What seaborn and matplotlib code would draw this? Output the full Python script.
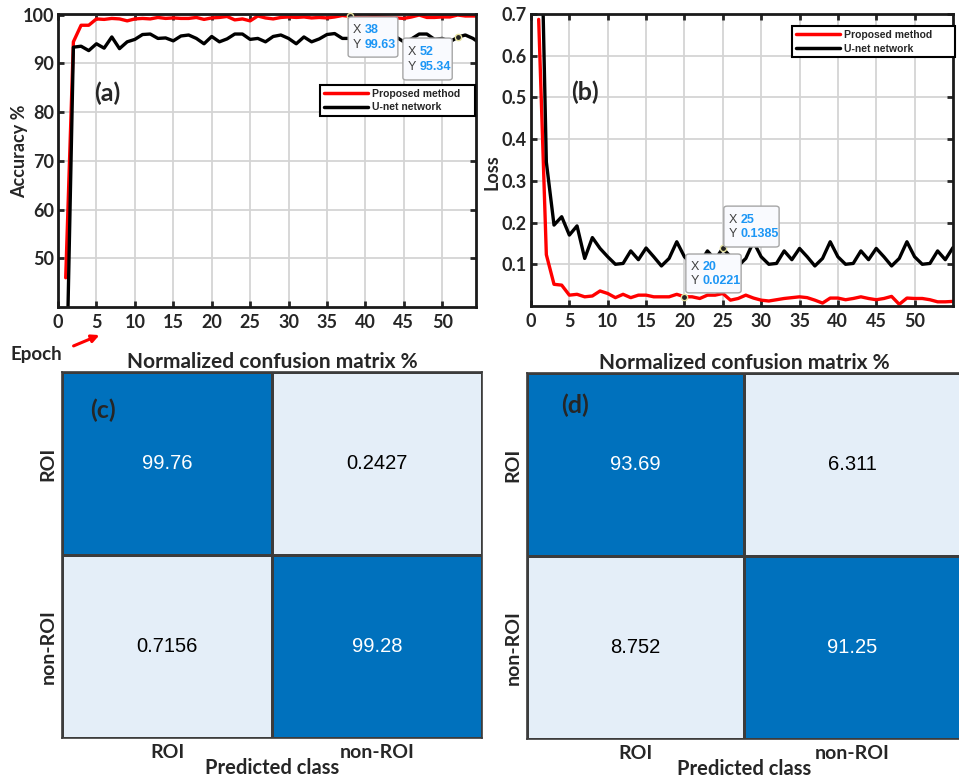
import numpy as np
import pandas as pd
import matplotlib.pyplot as plt
import seaborn as sns
from matplotlib.colors import ListedColormap
from matplotlib.patches import FancyBboxPatch, FancyArrowPatch

# ---- data ----
epochs = list(range(1, 56))

acc_proposed = [46.0, 94.4, 97.8, 97.8, 99.1, 99.0, 99.2, 99.1, 98.7, 99.1,
                99.2, 99.1, 99.4, 99.2, 99.3, 99.2, 99.2, 99.4, 99.0, 99.3,
                99.4, 99.6, 98.9, 99.1, 98.7, 99.7, 99.3, 99.1, 99.4, 99.5,
                99.4, 99.5, 99.3, 99.4, 99.3, 99.5, 99.8, 99.63, 99.5, 99.4,
                99.6, 99.5, 99.4, 99.3, 99.2, 99.5, 99.9, 99.4, 99.4, 99.5,
                99.5, 99.9, 99.7, 99.7, 99.7]
acc_unet = [17.0, 93.3, 93.5, 92.6, 94.0, 93.1, 95.4, 93.0, 94.4, 94.9,
            95.9, 96.0, 95.1, 95.2, 94.6, 95.6, 95.8, 95.1, 94.0, 95.5,
            94.4, 95.0, 96.0, 96.0, 94.9, 95.1, 94.4, 95.5, 95.8, 95.1,
            94.0, 95.4, 94.4, 95.0, 95.9, 96.1, 95.1, 95.1, 94.4, 95.5,
            95.8, 95.1, 94.0, 95.4, 94.4, 95.0, 96.0, 96.0, 94.9, 95.1,
            94.4, 95.34, 95.8, 95.1, 94.0]

loss_proposed = [0.687, 0.123, 0.052, 0.050, 0.026, 0.028, 0.022, 0.024, 0.036, 0.030,
                 0.020, 0.028, 0.020, 0.026, 0.026, 0.022, 0.022, 0.022, 0.028, 0.0221,
                 0.022, 0.018, 0.026, 0.026, 0.030, 0.014, 0.018, 0.026, 0.019, 0.014,
                 0.012, 0.015, 0.018, 0.020, 0.022, 0.020, 0.014, 0.007, 0.019, 0.019,
                 0.015, 0.018, 0.022, 0.018, 0.015, 0.018, 0.023, 0.004, 0.019, 0.018,
                 0.018, 0.015, 0.010, 0.010, 0.011]
loss_unet = [1.20, 0.345, 0.194, 0.214, 0.170, 0.192, 0.114, 0.164, 0.138, 0.118,
             0.100, 0.102, 0.132, 0.111, 0.139, 0.118, 0.096, 0.114, 0.154, 0.118,
             0.100, 0.102, 0.132, 0.111, 0.1385, 0.118, 0.096, 0.114, 0.154, 0.118,
             0.100, 0.102, 0.132, 0.111, 0.138, 0.118, 0.096, 0.114, 0.154, 0.118,
             0.100, 0.102, 0.132, 0.111, 0.138, 0.118, 0.096, 0.114, 0.154, 0.118,
             0.100, 0.102, 0.132, 0.111, 0.140]

methods = ["Proposed method", "U-net network"]
classes = ["ROI", "non-ROI"]
cm_proposed = [[99.76, 0.2427], [0.7156, 99.28]]
cm_unet = [[93.69, 6.311], [8.752, 91.25]]
cm_proposed_txt = [["99.76", "0.2427"], ["0.7156", "99.28"]]
cm_unet_txt = [["93.69", "6.311"], ["8.752", "91.25"]]

sns.set_style("ticks")
plt.rcParams['font.family'] = ['Lato', 'DejaVu Sans']

df_acc = pd.DataFrame({
    "epoch": epochs * 2,
    "value": acc_proposed + acc_unet,
    "method": [methods[0]] * len(epochs) + [methods[1]] * len(epochs),
})
df_loss = pd.DataFrame({
    "epoch": epochs * 2,
    "value": loss_proposed + loss_unet,
    "method": [methods[0]] * len(epochs) + [methods[1]] * len(epochs),
})

pal = {methods[0]: "#FF0000", methods[1]: "#000000"}
fig = plt.figure(figsize=(9.59, 7.80), dpi=100)

ax_a = fig.add_axes([0.0605, 0.6064, 0.4359, 0.3756])
ax_b = fig.add_axes([0.5537, 0.6077, 0.4400, 0.3744])


def style_line_axes(ax):
    ax.grid(True, color="#D4D4D4", linewidth=1.3)
    for s in ax.spines.values():
        s.set_linewidth(2.0)
        s.set_color("#1a1a1a")
    ax.tick_params(direction="in", length=4, width=2, top=True, right=True,
                   labelsize=13, pad=5)
    ax.tick_params(axis="y", pad=3)
    for lab in ax.get_xticklabels() + ax.get_yticklabels():
        lab.set_fontweight("bold")
    ax.set_xlabel("")


def datatip(ax, x, y, xv, yv, box):
    ax.plot([x], [y], "o", ms=4.5, mfc="#222222", mec="#E6E2A0", mew=1.0,
            zorder=6, clip_on=False)
    x0, y0, x1, y1 = box
    patch = FancyBboxPatch((x0, y0), x1 - x0, y1 - y0,
                           boxstyle="round,pad=0,rounding_size=0.008",
                           transform=ax.transAxes, fc="#F9FAFE", ec="#A6A6A6",
                           lw=1.0, zorder=7, clip_on=False)
    ax.add_patch(patch)
    h = y1 - y0
    for i, (k, v) in enumerate([("X", xv), ("Y", yv)]):
        yy = y1 - h * (0.33 + 0.36 * i)
        ax.text(x0 + 0.012, yy, k, transform=ax.transAxes, fontsize=9,
                family="Liberation Sans", color="#404040", va="center", zorder=8)
        ax.text(x0 + 0.040, yy, v, transform=ax.transAxes, fontsize=9,
                family="Liberation Sans", color="#1C96F5", fontweight="bold",
                va="center", zorder=8)


def add_legend(ax, anchor):
    h, l = ax.get_legend_handles_labels()
    leg = ax.legend(h, l, loc="upper left", bbox_to_anchor=anchor,
                    mode="expand", frameon=True, fancybox=False, edgecolor="black",
                    prop={"family": "Liberation Sans", "weight": "bold", "size": 7.5},
                    handlelength=4.2, borderpad=0.35, labelspacing=0.35,
                    handletextpad=0.4, framealpha=1)
    leg.get_frame().set_linewidth(1.5)
    leg.set_zorder(5)
    for ln in leg.get_lines():
        ln.set_linewidth(2.5)


# ---- (a) accuracy ----
sns.lineplot(data=df_acc, x="epoch", y="value", hue="method", hue_order=methods,
             palette=pal, linewidth=2.4, estimator=None, ax=ax_a)
ax_a.set_xlim(0, 54.4)
ax_a.set_ylim(40, 100.1)
ax_a.set_xticks(range(0, 55, 5))
ax_a.set_yticks(range(50, 101, 10))
style_line_axes(ax_a)
ax_a.set_ylabel("Accuracy %", fontsize=13, fontweight="bold")
ax_a.yaxis.set_label_coords(-0.072, 0.53)
add_legend(ax_a, (0.615, 0.655, 0.395, 0.12))
datatip(ax_a, epochs[37], acc_proposed[37], "38", "99.63", (0.694, 0.853, 0.813, 0.990))
datatip(ax_a, epochs[51], acc_unet[51], "52", "95.34", (0.825, 0.775, 0.943, 0.918))

# ---- (b) loss ----
sns.lineplot(data=df_loss, x="epoch", y="value", hue="method", hue_order=methods,
             palette=pal, linewidth=2.4, estimator=None, ax=ax_b)
ax_b.set_xlim(0, 55)
ax_b.set_ylim(0, 0.7)
ax_b.set_xticks(range(0, 55, 5))
ax_b.set_yticks([0.1, 0.2, 0.3, 0.4, 0.5, 0.6, 0.7])
style_line_axes(ax_b)
ax_b.set_ylabel("Loss", fontsize=13, fontweight="bold")
ax_b.yaxis.set_label_coords(-0.072, 0.46)
add_legend(ax_b, (0.607, 0.865, 0.41, 0.11))
datatip(ax_b, epochs[24], loss_unet[24], "25", "0.1385", (0.457, 0.202, 0.588, 0.342))
datatip(ax_b, epochs[19], loss_proposed[19], "20", "0.0221", (0.367, 0.045, 0.498, 0.178))

# ---- (c) / (d) confusion matrices ----
cmap = ListedColormap(["#E4EEF8", "#0071BD"])
ax_c = fig.add_axes([0.0647, 0.0538, 0.4380, 0.4692])
ax_d = fig.add_axes([0.5495, 0.0526, 0.4526, 0.4692])
for ax, mat, txt in [(ax_c, cm_proposed, cm_proposed_txt), (ax_d, cm_unet, cm_unet_txt)]:
    sns.heatmap(np.array(mat), annot=np.array(txt), fmt="", cmap=cmap, vmin=0, vmax=100,
                cbar=False, linewidths=1, linecolor="#3C3C3C",
                xticklabels=classes, yticklabels=classes,
                annot_kws={"size": 14.5, "family": "Liberation Sans"}, ax=ax)
    for t in ax.texts:
        t.set_color("white" if float(t.get_text()) > 50 else "black")
    for s in ax.spines.values():
        s.set_visible(True)
        s.set_linewidth(1.2)
        s.set_color("#3C3C3C")
    ax.tick_params(length=0, labelsize=14, pad=4)
    ax.set_xticklabels(classes, fontweight="bold", rotation=0)
    ax.set_yticklabels(classes, fontweight="bold", rotation=90, va="center")
    ax.set_xlabel("Predicted class", fontsize=14.5, fontweight="bold", labelpad=-2)
    ax.set_title("Normalized confusion matrix %", fontsize=15, fontweight="bold", pad=2)

# ---- panel letters and epoch arrow ----
for s, x, y in [("(a)", 107, 93), ("(b)", 585, 92), ("(c)", 103, 410), ("(d)", 575, 405)]:
    fig.text(x / 959, 1 - y / 780, s, fontsize=18, fontweight="bold",
             ha="center", va="center")
fig.text(36 / 959, 1 - 355 / 780, "Epoch", fontsize=13.5, fontweight="bold",
         ha="center", va="center")
fig.patches.append(FancyArrowPatch(
    (71 / 959, 1 - 347 / 780), (102 / 959, 1 - 334 / 780),
    transform=fig.transFigure, arrowstyle="-|>", mutation_scale=11,
    color="#FF0000", lw=2.2))

fig.savefig("out.png", dpi=100)
